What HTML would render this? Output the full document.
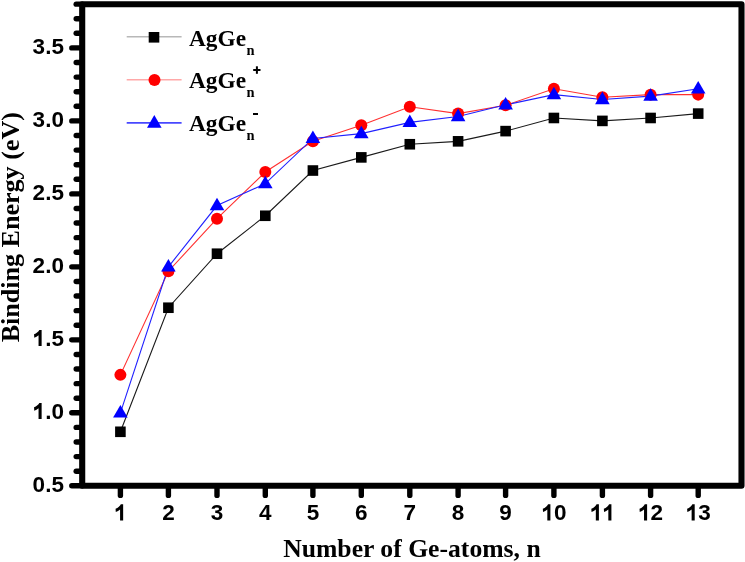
<!DOCTYPE html><html><head><meta charset="utf-8"><style>html,body{margin:0;padding:0;background:#fff;width:745px;height:562px;overflow:hidden}svg{display:block;will-change:transform}</style></head><body>
<svg width="745" height="562" viewBox="0 0 745 562">
<defs><path id="one" d="M540 0L540 990C420 890 290 810 150 760L130 1070C240 1110 340 1170 430 1250C520 1320 570 1390 610 1466L820 1466L820 0Z"/></defs>
<polyline points="120.40,431.79 168.40,307.73 217.00,253.72 265.30,215.77 312.90,170.53 361.30,157.39 409.80,144.25 458.10,141.33 505.60,131.12 553.90,117.98 602.40,120.90 650.60,117.98 698.20,113.60" fill="none" stroke="#1a1a1a" stroke-width="1.1"/>
<polyline points="120.40,374.87 168.40,271.24 217.00,218.69 265.30,171.99 312.90,141.33 361.30,125.28 409.80,106.74 458.10,113.60 505.60,105.28 553.90,88.79 602.40,97.25 650.60,94.63 698.20,94.63" fill="none" stroke="#ff3030" stroke-width="1.1"/>
<polyline points="120.40,412.82 168.40,266.86 217.00,205.56 265.30,183.66 312.90,138.42 361.30,133.60 409.80,122.36 458.10,116.52 505.60,104.84 553.90,94.63 602.40,99.44 650.60,96.09 698.20,88.79" fill="none" stroke="#2020ff" stroke-width="1.1"/>
<rect x="115.10" y="426.49" width="10.60" height="10.60" fill="#000"/>
<rect x="163.10" y="302.43" width="10.60" height="10.60" fill="#000"/>
<rect x="211.70" y="248.42" width="10.60" height="10.60" fill="#000"/>
<rect x="260.00" y="210.47" width="10.60" height="10.60" fill="#000"/>
<rect x="307.60" y="165.23" width="10.60" height="10.60" fill="#000"/>
<rect x="356.00" y="152.09" width="10.60" height="10.60" fill="#000"/>
<rect x="404.50" y="138.95" width="10.60" height="10.60" fill="#000"/>
<rect x="452.80" y="136.03" width="10.60" height="10.60" fill="#000"/>
<rect x="500.30" y="125.82" width="10.60" height="10.60" fill="#000"/>
<rect x="548.60" y="112.68" width="10.60" height="10.60" fill="#000"/>
<rect x="597.10" y="115.60" width="10.60" height="10.60" fill="#000"/>
<rect x="645.30" y="112.68" width="10.60" height="10.60" fill="#000"/>
<rect x="692.90" y="108.30" width="10.60" height="10.60" fill="#000"/>
<circle cx="120.40" cy="374.87" r="6.00" fill="#ff0000"/>
<circle cx="168.40" cy="271.24" r="6.00" fill="#ff0000"/>
<circle cx="217.00" cy="218.69" r="6.00" fill="#ff0000"/>
<circle cx="265.30" cy="171.99" r="6.00" fill="#ff0000"/>
<circle cx="312.90" cy="141.33" r="6.00" fill="#ff0000"/>
<circle cx="361.30" cy="125.28" r="6.00" fill="#ff0000"/>
<circle cx="409.80" cy="106.74" r="6.00" fill="#ff0000"/>
<circle cx="458.10" cy="113.60" r="6.00" fill="#ff0000"/>
<circle cx="505.60" cy="105.28" r="6.00" fill="#ff0000"/>
<circle cx="553.90" cy="88.79" r="6.00" fill="#ff0000"/>
<circle cx="602.40" cy="97.25" r="6.00" fill="#ff0000"/>
<circle cx="650.60" cy="94.63" r="6.00" fill="#ff0000"/>
<circle cx="698.20" cy="94.63" r="6.00" fill="#ff0000"/>
<polygon points="120.40,404.92 127.70,417.52 113.10,417.52" fill="#0000ff"/>
<polygon points="168.40,258.96 175.70,271.56 161.10,271.56" fill="#0000ff"/>
<polygon points="217.00,197.66 224.30,210.26 209.70,210.26" fill="#0000ff"/>
<polygon points="265.30,175.76 272.60,188.36 258.00,188.36" fill="#0000ff"/>
<polygon points="312.90,130.52 320.20,143.12 305.60,143.12" fill="#0000ff"/>
<polygon points="361.30,125.70 368.60,138.30 354.00,138.30" fill="#0000ff"/>
<polygon points="409.80,114.46 417.10,127.06 402.50,127.06" fill="#0000ff"/>
<polygon points="458.10,108.62 465.40,121.22 450.80,121.22" fill="#0000ff"/>
<polygon points="505.60,96.94 512.90,109.54 498.30,109.54" fill="#0000ff"/>
<polygon points="553.90,86.73 561.20,99.33 546.60,99.33" fill="#0000ff"/>
<polygon points="602.40,91.54 609.70,104.14 595.10,104.14" fill="#0000ff"/>
<polygon points="650.60,88.19 657.90,100.79 643.30,100.79" fill="#0000ff"/>
<polygon points="698.20,80.89 705.50,93.49 690.90,93.49" fill="#0000ff"/>
<rect x="82.20" y="4.30" width="659.30" height="481.50" fill="none" stroke="#000" stroke-width="6.1" stroke-linejoin="round"/>
<line x1="71.80" y1="485.80" x2="82.20" y2="485.80" stroke="#000" stroke-width="5.4" stroke-linecap="round"/>
<line x1="76.20" y1="471.20" x2="82.20" y2="471.20" stroke="#000" stroke-width="5.4" stroke-linecap="round"/>
<line x1="76.20" y1="456.61" x2="82.20" y2="456.61" stroke="#000" stroke-width="5.4" stroke-linecap="round"/>
<line x1="76.20" y1="442.01" x2="82.20" y2="442.01" stroke="#000" stroke-width="5.4" stroke-linecap="round"/>
<line x1="76.20" y1="427.42" x2="82.20" y2="427.42" stroke="#000" stroke-width="5.4" stroke-linecap="round"/>
<line x1="71.80" y1="412.82" x2="82.20" y2="412.82" stroke="#000" stroke-width="5.4" stroke-linecap="round"/>
<line x1="76.20" y1="398.22" x2="82.20" y2="398.22" stroke="#000" stroke-width="5.4" stroke-linecap="round"/>
<line x1="76.20" y1="383.63" x2="82.20" y2="383.63" stroke="#000" stroke-width="5.4" stroke-linecap="round"/>
<line x1="76.20" y1="369.03" x2="82.20" y2="369.03" stroke="#000" stroke-width="5.4" stroke-linecap="round"/>
<line x1="76.20" y1="354.44" x2="82.20" y2="354.44" stroke="#000" stroke-width="5.4" stroke-linecap="round"/>
<line x1="71.80" y1="339.84" x2="82.20" y2="339.84" stroke="#000" stroke-width="5.4" stroke-linecap="round"/>
<line x1="76.20" y1="325.24" x2="82.20" y2="325.24" stroke="#000" stroke-width="5.4" stroke-linecap="round"/>
<line x1="76.20" y1="310.65" x2="82.20" y2="310.65" stroke="#000" stroke-width="5.4" stroke-linecap="round"/>
<line x1="76.20" y1="296.05" x2="82.20" y2="296.05" stroke="#000" stroke-width="5.4" stroke-linecap="round"/>
<line x1="76.20" y1="281.46" x2="82.20" y2="281.46" stroke="#000" stroke-width="5.4" stroke-linecap="round"/>
<line x1="71.80" y1="266.86" x2="82.20" y2="266.86" stroke="#000" stroke-width="5.4" stroke-linecap="round"/>
<line x1="76.20" y1="252.26" x2="82.20" y2="252.26" stroke="#000" stroke-width="5.4" stroke-linecap="round"/>
<line x1="76.20" y1="237.67" x2="82.20" y2="237.67" stroke="#000" stroke-width="5.4" stroke-linecap="round"/>
<line x1="76.20" y1="223.07" x2="82.20" y2="223.07" stroke="#000" stroke-width="5.4" stroke-linecap="round"/>
<line x1="76.20" y1="208.48" x2="82.20" y2="208.48" stroke="#000" stroke-width="5.4" stroke-linecap="round"/>
<line x1="71.80" y1="193.88" x2="82.20" y2="193.88" stroke="#000" stroke-width="5.4" stroke-linecap="round"/>
<line x1="76.20" y1="179.28" x2="82.20" y2="179.28" stroke="#000" stroke-width="5.4" stroke-linecap="round"/>
<line x1="76.20" y1="164.69" x2="82.20" y2="164.69" stroke="#000" stroke-width="5.4" stroke-linecap="round"/>
<line x1="76.20" y1="150.09" x2="82.20" y2="150.09" stroke="#000" stroke-width="5.4" stroke-linecap="round"/>
<line x1="76.20" y1="135.50" x2="82.20" y2="135.50" stroke="#000" stroke-width="5.4" stroke-linecap="round"/>
<line x1="71.80" y1="120.90" x2="82.20" y2="120.90" stroke="#000" stroke-width="5.4" stroke-linecap="round"/>
<line x1="76.20" y1="106.30" x2="82.20" y2="106.30" stroke="#000" stroke-width="5.4" stroke-linecap="round"/>
<line x1="76.20" y1="91.71" x2="82.20" y2="91.71" stroke="#000" stroke-width="5.4" stroke-linecap="round"/>
<line x1="76.20" y1="77.11" x2="82.20" y2="77.11" stroke="#000" stroke-width="5.4" stroke-linecap="round"/>
<line x1="76.20" y1="62.52" x2="82.20" y2="62.52" stroke="#000" stroke-width="5.4" stroke-linecap="round"/>
<line x1="71.80" y1="47.92" x2="82.20" y2="47.92" stroke="#000" stroke-width="5.4" stroke-linecap="round"/>
<line x1="76.20" y1="33.32" x2="82.20" y2="33.32" stroke="#000" stroke-width="5.4" stroke-linecap="round"/>
<line x1="76.20" y1="18.73" x2="82.20" y2="18.73" stroke="#000" stroke-width="5.4" stroke-linecap="round"/>
<line x1="76.20" y1="4.13" x2="82.20" y2="4.13" stroke="#000" stroke-width="5.4" stroke-linecap="round"/>
<line x1="120.40" y1="485.80" x2="120.40" y2="495.40" stroke="#000" stroke-width="5.4" stroke-linecap="round"/>
<line x1="168.40" y1="485.80" x2="168.40" y2="495.40" stroke="#000" stroke-width="5.4" stroke-linecap="round"/>
<line x1="217.00" y1="485.80" x2="217.00" y2="495.40" stroke="#000" stroke-width="5.4" stroke-linecap="round"/>
<line x1="265.30" y1="485.80" x2="265.30" y2="495.40" stroke="#000" stroke-width="5.4" stroke-linecap="round"/>
<line x1="312.90" y1="485.80" x2="312.90" y2="495.40" stroke="#000" stroke-width="5.4" stroke-linecap="round"/>
<line x1="361.30" y1="485.80" x2="361.30" y2="495.40" stroke="#000" stroke-width="5.4" stroke-linecap="round"/>
<line x1="409.80" y1="485.80" x2="409.80" y2="495.40" stroke="#000" stroke-width="5.4" stroke-linecap="round"/>
<line x1="458.10" y1="485.80" x2="458.10" y2="495.40" stroke="#000" stroke-width="5.4" stroke-linecap="round"/>
<line x1="505.60" y1="485.80" x2="505.60" y2="495.40" stroke="#000" stroke-width="5.4" stroke-linecap="round"/>
<line x1="553.90" y1="485.80" x2="553.90" y2="495.40" stroke="#000" stroke-width="5.4" stroke-linecap="round"/>
<line x1="602.40" y1="485.80" x2="602.40" y2="495.40" stroke="#000" stroke-width="5.4" stroke-linecap="round"/>
<line x1="650.60" y1="485.80" x2="650.60" y2="495.40" stroke="#000" stroke-width="5.4" stroke-linecap="round"/>
<line x1="698.20" y1="485.80" x2="698.20" y2="495.40" stroke="#000" stroke-width="5.4" stroke-linecap="round"/>
<text x="32.62" y="492.00" font-family="Liberation Sans" font-weight="bold" font-size="22.5">0</text>
<text x="45.14" y="492.00" font-family="Liberation Sans" font-weight="bold" font-size="22.5">.</text>
<text x="51.39" y="492.00" font-family="Liberation Sans" font-weight="bold" font-size="22.5">5</text>
<use href="#one" transform="translate(32.62,419.02) scale(0.01099,-0.01099)"/>
<text x="45.14" y="419.02" font-family="Liberation Sans" font-weight="bold" font-size="22.5">.</text>
<text x="51.39" y="419.02" font-family="Liberation Sans" font-weight="bold" font-size="22.5">0</text>
<use href="#one" transform="translate(32.62,346.04) scale(0.01099,-0.01099)"/>
<text x="45.14" y="346.04" font-family="Liberation Sans" font-weight="bold" font-size="22.5">.</text>
<text x="51.39" y="346.04" font-family="Liberation Sans" font-weight="bold" font-size="22.5">5</text>
<text x="32.62" y="273.06" font-family="Liberation Sans" font-weight="bold" font-size="22.5">2</text>
<text x="45.14" y="273.06" font-family="Liberation Sans" font-weight="bold" font-size="22.5">.</text>
<text x="51.39" y="273.06" font-family="Liberation Sans" font-weight="bold" font-size="22.5">0</text>
<text x="32.62" y="200.08" font-family="Liberation Sans" font-weight="bold" font-size="22.5">2</text>
<text x="45.14" y="200.08" font-family="Liberation Sans" font-weight="bold" font-size="22.5">.</text>
<text x="51.39" y="200.08" font-family="Liberation Sans" font-weight="bold" font-size="22.5">5</text>
<text x="32.62" y="127.10" font-family="Liberation Sans" font-weight="bold" font-size="22.5">3</text>
<text x="45.14" y="127.10" font-family="Liberation Sans" font-weight="bold" font-size="22.5">.</text>
<text x="51.39" y="127.10" font-family="Liberation Sans" font-weight="bold" font-size="22.5">0</text>
<text x="32.62" y="54.12" font-family="Liberation Sans" font-weight="bold" font-size="22.5">3</text>
<text x="45.14" y="54.12" font-family="Liberation Sans" font-weight="bold" font-size="22.5">.</text>
<text x="51.39" y="54.12" font-family="Liberation Sans" font-weight="bold" font-size="22.5">5</text>
<use href="#one" transform="translate(114.14,520.40) scale(0.01099,-0.01099)"/>
<text x="162.14" y="520.40" font-family="Liberation Sans" font-weight="bold" font-size="22.5">2</text>
<text x="210.74" y="520.40" font-family="Liberation Sans" font-weight="bold" font-size="22.5">3</text>
<text x="259.04" y="520.40" font-family="Liberation Sans" font-weight="bold" font-size="22.5">4</text>
<text x="306.64" y="520.40" font-family="Liberation Sans" font-weight="bold" font-size="22.5">5</text>
<text x="355.04" y="520.40" font-family="Liberation Sans" font-weight="bold" font-size="22.5">6</text>
<text x="403.54" y="520.40" font-family="Liberation Sans" font-weight="bold" font-size="22.5">7</text>
<text x="451.84" y="520.40" font-family="Liberation Sans" font-weight="bold" font-size="22.5">8</text>
<text x="499.34" y="520.40" font-family="Liberation Sans" font-weight="bold" font-size="22.5">9</text>
<use href="#one" transform="translate(541.39,520.40) scale(0.01099,-0.01099)"/>
<text x="553.90" y="520.40" font-family="Liberation Sans" font-weight="bold" font-size="22.5">0</text>
<use href="#one" transform="translate(589.89,520.40) scale(0.01099,-0.01099)"/>
<use href="#one" transform="translate(602.40,520.40) scale(0.01099,-0.01099)"/>
<use href="#one" transform="translate(638.09,520.40) scale(0.01099,-0.01099)"/>
<text x="650.60" y="520.40" font-family="Liberation Sans" font-weight="bold" font-size="22.5">2</text>
<use href="#one" transform="translate(685.69,520.40) scale(0.01099,-0.01099)"/>
<text x="698.20" y="520.40" font-family="Liberation Sans" font-weight="bold" font-size="22.5">3</text>
<text x="283.2" y="556.9" font-family="Liberation Serif" font-weight="bold" font-size="25" textLength="257.5" lengthAdjust="spacingAndGlyphs">Number of Ge-atoms, n</text>
<text transform="translate(19.4,342.3) rotate(-90)" x="0" y="0" font-family="Liberation Serif" font-weight="bold" font-size="25.6" textLength="230.2" lengthAdjust="spacingAndGlyphs">Binding Energy (eV)</text>
<line x1="126.7" y1="36.80" x2="181.6" y2="36.80" stroke="#b8b8b8" stroke-width="1.6"/>
<line x1="126.7" y1="79.80" x2="181.6" y2="79.80" stroke="#ffa8a8" stroke-width="1.6"/>
<line x1="126.7" y1="122.90" x2="181.6" y2="122.90" stroke="#4848ff" stroke-width="1.6"/>
<rect x="148.70" y="32.00" width="10.60" height="10.60" fill="#000"/>
<circle cx="154.50" cy="80.00" r="6.00" fill="#ff0000"/>
<polygon points="154.30,115.10 161.60,127.70 147.00,127.70" fill="#0000ff"/>
<text x="189" y="45.50" font-family="Liberation Serif" font-weight="bold" font-size="23.5" textLength="57" lengthAdjust="spacingAndGlyphs">AgGe</text>
<text x="246.6" y="54.70" font-family="Liberation Serif" font-weight="bold" font-size="14.5">n</text>
<text x="189" y="87.80" font-family="Liberation Serif" font-weight="bold" font-size="23.5" textLength="57" lengthAdjust="spacingAndGlyphs">AgGe</text>
<text x="246.6" y="97.00" font-family="Liberation Serif" font-weight="bold" font-size="14.5">n</text>
<text x="189" y="130.80" font-family="Liberation Serif" font-weight="bold" font-size="23.5" textLength="57" lengthAdjust="spacingAndGlyphs">AgGe</text>
<text x="246.6" y="140.00" font-family="Liberation Serif" font-weight="bold" font-size="14.5">n</text>
<rect x="253.2" y="69.0" width="7.3" height="2.0" fill="#000"/><rect x="255.9" y="66.3" width="2.0" height="7.5" fill="#000"/>
<rect x="253.0" y="113.0" width="5.0" height="2.0" fill="#000"/>
</svg></body></html>
